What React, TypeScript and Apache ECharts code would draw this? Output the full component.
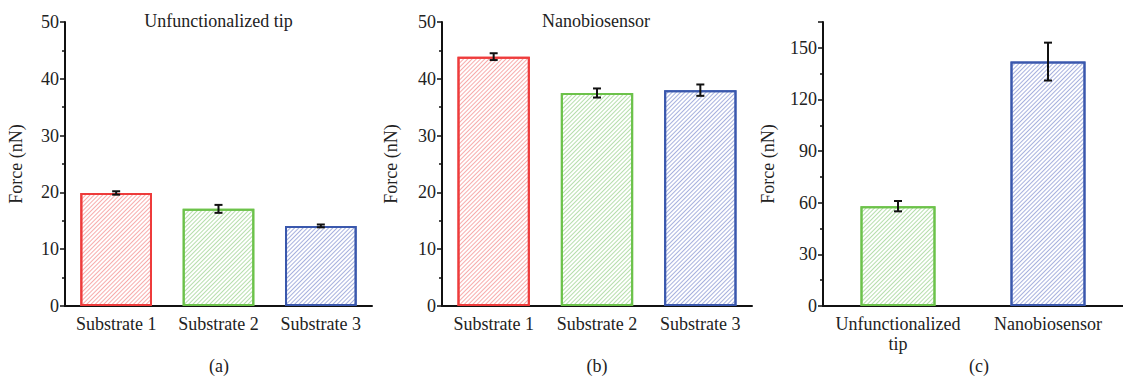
import React, { useEffect, useRef } from "react";
import * as echarts from "echarts";

const substrateCats = ["Substrate 1", "Substrate 2", "Substrate 3"];
const unfuncMean = [19.9, 17.1, 14.1];
const unfuncErr = [0.3, 0.7, 0.25];
const nanoMean = [43.9, 37.5, 38.0];
const nanoErr = [0.6, 0.8, 1.0];
const compareCats = ["Unfunctionalized\ntip", "Nanobiosensor"];
const compareMean = [58, 142];
const compareErr = [3, 11];

const panelTitles = ["Unfunctionalized tip", "Nanobiosensor"];
const subCaptions = ["(a)", "(b)", "(c)"];

const RED = { border: "#ee3b3b", hatch: "rgba(240,90,90,0.5)" };
const GREEN = { border: "#6cc24a", hatch: "rgba(110,190,90,0.5)" };
const BLUE = { border: "#3a58ad", hatch: "rgba(80,100,190,0.5)" };

const FONT = "Liberation Serif";
const TXT = "#222";

function barItems(values: number[], styles: { border: string; hatch: string }[]) {
  return values.map((v, i) => ({
    value: v,
    itemStyle: {
      color: "#ffffff",
      borderColor: styles[i].border,
      borderWidth: 2,
      decal: {
        symbol: "rect",
        symbolSize: 1,
        color: styles[i].hatch,
        dashArrayX: [1, 0],
        dashArrayY: [0.8, 1.2],
        rotation: -Math.PI / 4,
      },
    },
  }));
}

function errData(means: number[], errs: number[]) {
  return means.map((m, i) => [i, m - errs[i], m + errs[i]]);
}

function errSeries(idx: number, means: number[], errs: number[]) {
  return {
    type: "custom",
    xAxisIndex: idx,
    yAxisIndex: idx,
    z: 10,
    data: errData(means, errs),
    renderItem: (params: any, api: any) => {
      const lo = api.coord([api.value(0), api.value(1)]);
      const hi = api.coord([api.value(0), api.value(2)]);
      const hw = 4;
      const style = { stroke: "#111", lineWidth: 2 };
      return {
        type: "group",
        children: [
          { type: "line", shape: { x1: lo[0], y1: lo[1], x2: hi[0], y2: hi[1] }, style },
          { type: "line", shape: { x1: lo[0] - hw, y1: lo[1], x2: lo[0] + hw, y2: lo[1] }, style },
          { type: "line", shape: { x1: hi[0] - hw, y1: hi[1], x2: hi[0] + hw, y2: hi[1] }, style },
        ],
      };
    },
  };
}

function xAxis(idx: number, cats: string[]) {
  return {
    type: "category",
    gridIndex: idx,
    data: cats,
    axisLine: { lineStyle: { color: "#111", width: 2 } },
    axisTick: { alignWithLabel: true, length: 4, lineStyle: { color: "#111", width: 1.5 } },
    axisLabel: { interval: 0, color: TXT, fontFamily: FONT, fontSize: 18, margin: 8, lineHeight: 20 },
  };
}

function yAxis(idx: number, max: number, interval: number, nameGap: number) {
  return {
    type: "value",
    gridIndex: idx,
    min: 0,
    max,
    interval,
    name: "Force (nN)",
    nameLocation: "middle",
    nameGap,
    nameTextStyle: { color: TXT, fontFamily: FONT, fontSize: 18 },
    axisLine: { show: true, lineStyle: { color: "#111", width: 2 } },
    axisTick: { show: true, length: 5, lineStyle: { color: "#111", width: 1.5 } },
    minorTick: { show: true, splitNumber: 2, length: 3, lineStyle: { color: "#111", width: 1.5 } },
    splitLine: { show: false },
    axisLabel: {
      color: TXT,
      fontFamily: FONT,
      fontSize: 18,
      margin: 6,
      formatter: (v: number) => (v % interval === 0 ? String(v) : ""),
    },
  };
}

export default function App() {
  const ref = useRef<HTMLDivElement>(null);
  useEffect(() => {
    document.body.style.margin = "0";
    const chart = echarts.init(ref.current!, null, { renderer: "svg" });
    const option: any = {
      animation: false,
      backgroundColor: "#ffffff",
      grid: [
        { left: 65, top: 22, width: 307, height: 284 },
        { left: 442, top: 22, width: 310, height: 284 },
        { left: 823, top: 22, width: 310, height: 284 },
      ],
      xAxis: [xAxis(0, substrateCats), xAxis(1, substrateCats), xAxis(2, compareCats)],
      yAxis: [yAxis(0, 50, 10, 40), yAxis(1, 50, 10, 42), yAxis(2, 165, 30, 46)],
      series: [
        { type: "bar", xAxisIndex: 0, yAxisIndex: 0, barWidth: "70%", data: barItems(unfuncMean, [RED, GREEN, BLUE]) },
        errSeries(0, unfuncMean, unfuncErr),
        { type: "bar", xAxisIndex: 1, yAxisIndex: 1, barWidth: "70%", data: barItems(nanoMean, [RED, GREEN, BLUE]) },
        errSeries(1, nanoMean, nanoErr),
        { type: "bar", xAxisIndex: 2, yAxisIndex: 2, barWidth: "50%", data: barItems(compareMean, [GREEN, BLUE]) },
        errSeries(2, compareMean, compareErr),
      ],
      graphic: [
        { type: "text", x: 218.5, y: 12, style: { text: panelTitles[0], textAlign: "center", fill: TXT, font: `18px "${FONT}"` } },
        { type: "text", x: 596, y: 12, style: { text: panelTitles[1], textAlign: "center", fill: TXT, font: `18px "${FONT}"` } },
        { type: "text", x: 219, y: 357, style: { text: subCaptions[0], textAlign: "center", fill: TXT, font: `18px "${FONT}"` } },
        { type: "text", x: 597, y: 357, style: { text: subCaptions[1], textAlign: "center", fill: TXT, font: `18px "${FONT}"` } },
        { type: "text", x: 979, y: 357, style: { text: subCaptions[2], textAlign: "center", fill: TXT, font: `18px "${FONT}"` } },
      ],
    };
    chart.setOption(option);
    return () => chart.dispose();
  }, []);
  return <div ref={ref} style={{ width: 1123, height: 376 }} />;
}
